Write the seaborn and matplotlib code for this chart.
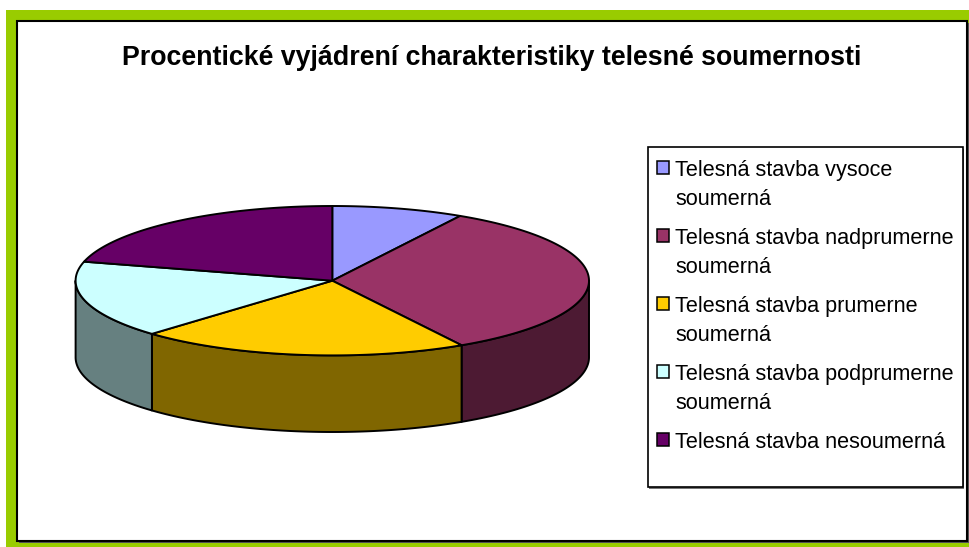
import numpy as np
import matplotlib
matplotlib.use("Agg")
import matplotlib.pyplot as plt
from matplotlib.patches import Polygon, Rectangle
import seaborn as sns

# ---- data ----
title = "Procentické vyjádrení charakteristiky telesné soumernosti"
categories = [
    "Telesná stavba vysoce\nsoumerná",
    "Telesná stavba nadprumerne\nsoumerná",
    "Telesná stavba prumerne\nsoumerná",
    "Telesná stavba podprumerne\nsoumerná",
    "Telesná stavba nesoumerná",
]
values = [8.3, 33.3, 20.8, 16.7, 20.9]
top_colors = ["#9999FF", "#993366", "#FFCC00", "#CCFFFF", "#660066"]

sns.set_theme(style="white")
plt.rcParams['font.family'] = ['Liberation Sans', 'DejaVu Sans']

palette = sns.color_palette(top_colors)
side_palette = [tuple(c * 0.5 for c in col) for col in palette]

fig = plt.figure(figsize=(9.7, 5.47), dpi=100)
ax = fig.add_axes([0, 0, 1, 1])
ax.set_xlim(0, 970)
ax.set_ylim(547, 0)
ax.axis("off")

# frame: green border, white chart area with black border + shadow
ax.add_patch(Rectangle((6, 10), 964, 537, fc="#99CC00", ec="none", zorder=0))
ax.add_patch(Rectangle((19, 23), 950, 520, fc="#555555", ec="none", zorder=0.5))
ax.add_patch(Rectangle((17, 21), 950, 520, fc="white", ec="black", lw=1.5, zorder=1))

ax.text(492, 58, title, ha="center", va="center", fontsize=19.3,
        fontweight="bold", color="black", zorder=5)

# ---- 3D pie ----
cx, cy, rx, ry, depth = 332.3, 280.7, 256.7, 74.7, 76.6


def pt(t_deg, dy=0.0):
    t = np.radians(t_deg)
    return cx + rx * np.cos(t), cy - ry * np.sin(t) + dy


total = float(sum(values))
spans = [v / total * 360.0 for v in values]
bounds = []
start = 90.0
for s in spans:
    bounds.append((start - s, start))
    start -= s

# side walls (front visible half: angle in [-180, 0] modulo 360)
for (lo, hi), sc in zip(bounds, side_palette):
    for k in (-1, 0, 1):
        a = max(lo, -180 + 360 * k)
        b = min(hi, 0 + 360 * k)
        if b - a <= 0.01:
            continue
        ts = np.linspace(a, b, 120)
        top = [pt(t) for t in ts]
        bot = [pt(t, depth) for t in ts[::-1]]
        ax.add_patch(Polygon(top + bot, closed=True, fc=sc, ec="black",
                             lw=1.4, joinstyle="round", zorder=2))

# top face wedges
for (lo, hi), col in zip(bounds, palette):
    ts = np.linspace(lo, hi, 200)
    pts = [(cx, cy)] + [pt(t) for t in ts]
    ax.add_patch(Polygon(pts, closed=True, fc=col, ec="black", lw=1.4,
                         joinstyle="round", zorder=3))

# ---- legend ----
lx0, ly0, lx1, ly1 = 648, 147, 963, 487
ax.add_patch(Rectangle((lx0 + 1.5, ly0 + 1.5), lx1 - lx0, ly1 - ly0,
                       fc="#777777", ec="none", zorder=4))
ax.add_patch(Rectangle((lx0, ly0), lx1 - lx0, ly1 - ly0, fc="white",
                       ec="black", lw=1.2, zorder=4.5))
for i, (lab, col) in enumerate(zip(categories, palette)):
    base = 176 + 68.1 * i
    ax.add_patch(Rectangle((657, base - 15), 12, 12.5, fc=col, ec="black",
                           lw=1.1, zorder=5))
    for j, line in enumerate(lab.split("\n")):
        ax.text(675, base + 29 * j, line, ha="left", va="baseline",
                fontsize=15.6, color="black", zorder=5)

fig.savefig("out.png", dpi=100)
